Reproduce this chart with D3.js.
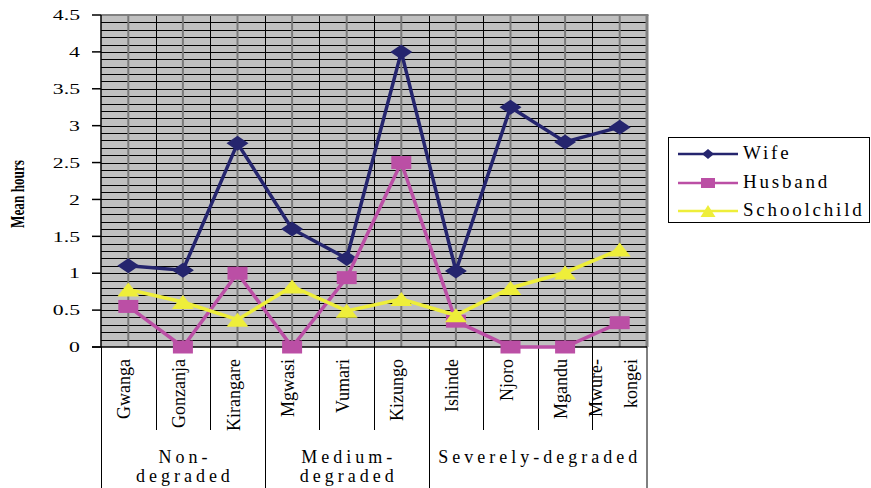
<!DOCTYPE html>
<html>
<head>
<meta charset="utf-8">
<script src="https://cdn.jsdelivr.net/npm/d3@7"></script>
<style>
  html, body { margin: 0; padding: 0; background: #fff; }
  svg { display: block; }
  text { font-family: "Liberation Serif", "Times New Roman", serif; fill: #000; }
</style>
</head>
<body>
<svg id="chart" width="871" height="488"></svg>
<script>
// Villages, grouped by degradation level
const categories = ["Gwanga", "Gonzanja", "Kirangare", "Mgwasi", "Vumari", "Kizungo", "Ishinde", "Njoro", "Mgandu", "Mwure-kongei"];
const groupNames = ["Non-degraded", "Medium-degraded", "Severely-degraded"];
const groupSizes = [3, 3, 4];
const groupLabelLines = [["Non-", "degraded"], ["Medium-", "degraded"], ["Severely-degraded"]];

// Mean hours per household member
const wife = [1.1, 1.04, 2.76, 1.6, 1.2, 4.0, 1.03, 3.25, 2.78, 2.98];
const husband = [0.55, 0, 1.0, 0, 0.94, 2.5, 0.35, 0, 0, 0.33];
const schoolchild = [0.78, 0.61, 0.37, 0.82, 0.49, 0.65, 0.43, 0.8, 1.01, 1.32];

const seriesNames = ["Wife", "Husband", "Schoolchild"];
const yTicks = [0, 0.5, 1, 1.5, 2, 2.5, 3, 3.5, 4, 4.5];
const yLabel = "Mean hours";

const series = [
  { name: seriesNames[0], values: wife, color: "#25256e", marker: "diamond" },
  { name: seriesNames[1], values: husband, color: "#bb4fa5", marker: "square" },
  { name: seriesNames[2], values: schoolchild, color: "#eeee3a", marker: "triangle" }
];

const svg = d3.select("#chart");
const plot = { left: 101, right: 647, top: 15, bottom: 347 };

const x = d3.scaleBand().domain(categories).range([plot.left, plot.right]).padding(0);
const y = d3.scaleLinear().domain([0, 4.5]).range([plot.bottom, plot.top]);
const cx = c => x(c) + x.bandwidth() / 2;

// marker shapes (wider than tall)
function markerPath(type, w, h) {
  const a = w / 2, b = h / 2;
  if (type === "diamond") return `M${-a},0L0,${-b}L${a},0L0,${b}Z`;
  if (type === "square") return `M${-a},${-b}H${a}V${b}H${-a}Z`;
  return `M0,${-b}L${a},${b}L${-a},${b}Z`;
}
const markerSize = { diamond: [22, 15], square: [20, 13], triangle: [22, 14] };
const legendMarkerSize = { diamond: [12, 10], square: [14, 10], triangle: [15, 12] };

// plot background
svg.append("rect")
  .attr("x", plot.left).attr("y", plot.top)
  .attr("width", plot.right - plot.left).attr("height", plot.bottom - plot.top)
  .attr("fill", "#c0c0c0");

// horizontal minor grid every 0.1
const grid = svg.append("g");
d3.range(1, 45).forEach(i => {
  const yy = Math.round(y(i / 10)) + 0.5;
  grid.append("line")
    .attr("x1", plot.left).attr("x2", plot.right)
    .attr("y1", yy).attr("y2", yy)
    .attr("stroke", "#000").attr("stroke-width", 1);
});
// vertical grid: black at category boundaries, grey at category centres
categories.forEach((c, i) => {
  if (i > 0) {
    const xx = Math.round(x(c)) + 0.5;
    grid.append("line").attr("x1", xx).attr("x2", xx)
      .attr("y1", plot.top).attr("y2", plot.bottom)
      .attr("stroke", "#000").attr("stroke-width", 1);
  }
  const xc = cx(c);
  grid.append("line").attr("x1", xc).attr("x2", xc)
    .attr("y1", plot.top).attr("y2", plot.bottom)
    .attr("stroke", "#7a7a7a").attr("stroke-width", 2);
});

// plot frame top / right
svg.append("line").attr("x1", plot.left).attr("x2", plot.right + 1.5)
  .attr("y1", plot.top).attr("y2", plot.top)
  .attr("stroke", "#808080").attr("stroke-width", 2);
svg.append("line").attr("x1", plot.right).attr("x2", plot.right)
  .attr("y1", plot.top).attr("y2", plot.bottom)
  .attr("stroke", "#808080").attr("stroke-width", 3);

// y axis
const yAxis = svg.append("g");
yAxis.append("line").attr("x1", plot.left).attr("x2", plot.left)
  .attr("y1", plot.top).attr("y2", plot.bottom)
  .attr("stroke", "#000").attr("stroke-width", 1.5);
yTicks.forEach(t => {
  const yy = y(t);
  yAxis.append("line").attr("x1", 92).attr("x2", plot.left)
    .attr("y1", yy).attr("y2", yy)
    .attr("stroke", "#000").attr("stroke-width", 1.5);
  yAxis.append("text")
    .attr("transform", `translate(80,${yy}) scale(1.45,1)`)
    .attr("text-anchor", "end").attr("dy", "0.35em")
    .style("font-size", "15px")
    .text(t);
});

// y axis title
svg.append("text")
  .attr("transform", "translate(24,194) rotate(-90)")
  .attr("text-anchor", "middle")
  .attr("textLength", 68).attr("lengthAdjust", "spacingAndGlyphs")
  .style("font-size", "18px").style("font-weight", "bold")
  .text(yLabel);

// x axis line and category table
svg.append("line").attr("x1", 92).attr("x2", plot.right)
  .attr("y1", plot.bottom).attr("y2", plot.bottom)
  .attr("stroke", "#000").attr("stroke-width", 1.5);

const groupStarts = [];
groupSizes.reduce((acc, n) => { groupStarts.push(acc); return acc + n; }, 0);

categories.forEach((c, i) => {
  if (i === 0) return;
  const xx = Math.round(x(c)) + 0.5;
  const isGroupEdge = groupStarts.includes(i);
  svg.append("line").attr("x1", xx).attr("x2", xx)
    .attr("y1", plot.bottom).attr("y2", isGroupEdge ? 488 : 430)
    .attr("stroke", "#000").attr("stroke-width", 1);
});
[plot.left + 0.5, plot.right].forEach(xx => {
  svg.append("line").attr("x1", xx).attr("x2", xx)
    .attr("y1", plot.bottom).attr("y2", 488)
    .attr("stroke", "#000").attr("stroke-width", 1);
});

// category labels, rotated
categories.forEach(c => {
  const lines = c.includes("-") ? [c.slice(0, c.indexOf("-") + 1), c.slice(c.indexOf("-") + 1)] : [c];
  const base = cx(c) + 2;
  lines.forEach((ln, k) => {
    const off = lines.length > 1 ? (k === 0 ? -20 : 15) : 0;
    svg.append("text")
      .attr("transform", `translate(${base + off},359) rotate(-90)`)
      .attr("text-anchor", "end")
      .style("font-size", "18px")
      .text(ln);
  });
});

// group labels
groupNames.forEach((g, gi) => {
  const start = groupStarts[gi];
  const x0 = x(categories[start]);
  const x1 = x(categories[start + groupSizes[gi] - 1]) + x.bandwidth();
  const mid = (x0 + x1) / 2 + 2;
  groupLabelLines[gi].forEach((ln, k) => {
    svg.append("text")
      .attr("x", mid).attr("y", 463 + k * 19)
      .attr("text-anchor", "middle")
      .style("font-size", "18px").style("letter-spacing", "4px")
      .text(ln);
  });
});

// series lines and markers
const line = d3.line().x((d, i) => cx(categories[i])).y(d => y(d));
series.forEach(s => {
  const g = svg.append("g");
  g.append("path").datum(s.values)
    .attr("d", line)
    .attr("fill", "none").attr("stroke", s.color)
    .attr("stroke-width", 3.5).attr("stroke-linejoin", "miter");
  const [mw, mh] = markerSize[s.marker];
  g.selectAll("path.m").data(s.values).enter().append("path")
    .attr("class", "m")
    .attr("transform", (d, i) => `translate(${cx(categories[i])},${y(d)})`)
    .attr("d", markerPath(s.marker, mw, mh))
    .attr("fill", s.color);
});

// legend
const legend = svg.append("g");
legend.append("rect")
  .attr("x", 668.5).attr("y", 137.5).attr("width", 201).attr("height", 85)
  .attr("fill", "#fff").attr("stroke", "#000").attr("stroke-width", 1);
const legendRows = [154, 183, 211];
series.forEach((s, i) => {
  const ly = legendRows[i];
  legend.append("line").attr("x1", 678).attr("x2", 738)
    .attr("y1", ly).attr("y2", ly)
    .attr("stroke", s.color).attr("stroke-width", 2.5);
  const [mw, mh] = legendMarkerSize[s.marker];
  legend.append("path")
    .attr("transform", `translate(708,${ly})`)
    .attr("d", markerPath(s.marker, mw, mh))
    .attr("fill", s.color);
  legend.append("text")
    .attr("x", 743).attr("y", ly + 5)
    .style("font-size", "19px").style("letter-spacing", "2.8px")
    .text(s.name);
});
</script>
</body>
</html>
